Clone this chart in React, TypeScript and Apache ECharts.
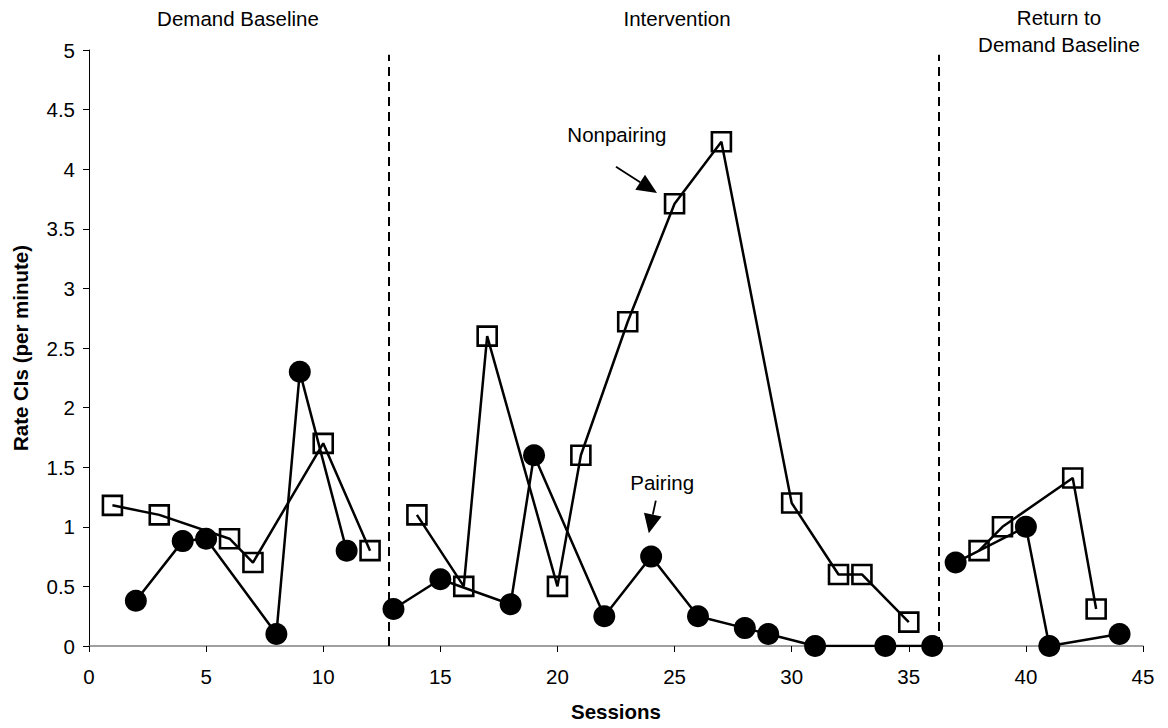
import React, { useEffect, useRef } from "react";
import * as echarts from "echarts";

// Nonpairing (open squares), by phase: [session, rate]
const nonpairingBaseline: [number, number][] = [
  [1, 1.18], [3, 1.1], [6, 0.9], [7, 0.7], [10, 1.7], [12, 0.8],
];
const nonpairingIntervention: [number, number][] = [
  [14, 1.1], [16, 0.5], [17, 2.6], [20, 0.5], [21, 1.6], [23, 2.72],
  [25, 3.71], [27, 4.23], [30, 1.2], [32, 0.6], [33, 0.6], [35, 0.2],
];
const nonpairingReturn: [number, number][] = [
  [38, 0.8], [39, 1.0], [42, 1.41], [43, 0.31],
];

// Pairing (filled circles), by phase
const pairingBaseline: [number, number][] = [
  [2, 0.38], [4, 0.88], [5, 0.9], [8, 0.1], [9, 2.3], [11, 0.8],
];
const pairingIntervention: [number, number][] = [
  [13, 0.31], [15, 0.56], [18, 0.35], [19, 1.6], [22, 0.25], [24, 0.75],
  [26, 0.25], [28, 0.15], [29, 0.1], [31, 0], [34, 0], [36, 0],
];
const pairingReturn: [number, number][] = [
  [37, 0.7], [40, 1.0], [41, 0], [44, 0.1],
];

// Phase change lines (session position)
const phaseChanges: number[] = [12.8, 36.3];

const phaseLabels = [
  { text: "Demand Baseline", x: 238, y: 18 },
  { text: "Intervention", x: 677, y: 18 },
  { text: "Return to\nDemand Baseline", x: 1059, y: 31 },
];

const FONT = "'Liberation Sans', Arial, Helvetica, sans-serif";
const FS = 20.5;

export default function App() {
  const ref = useRef<HTMLDivElement>(null);

  useEffect(() => {
    if (!ref.current) return;
    const chart = echarts.init(ref.current, null, { renderer: "svg" });

    const squareSeries = (data: [number, number][]) => ({
      type: "line",
      data,
      symbol: "rect",
      symbolSize: 19,
      showSymbol: true,
      lineStyle: { color: "#000", width: 2.5 },
      itemStyle: { color: "rgba(0,0,0,0)", borderColor: "#000", borderWidth: 2.6 },
      z: 2,
    });
    const circleSeries = (data: [number, number][]) => ({
      type: "line",
      data,
      symbol: "circle",
      symbolSize: 22,
      showSymbol: true,
      lineStyle: { color: "#000", width: 2.5 },
      itemStyle: { color: "#000", borderWidth: 0 },
      z: 3,
    });

    chart.setOption({
      animation: false,
      textStyle: { fontFamily: FONT },
      grid: { left: 89, right: 25, top: 50, bottom: 82, containLabel: false },
      xAxis: {
        type: "value",
        min: 0,
        max: 45,
        interval: 5,
        name: "Sessions",
        nameLocation: "middle",
        nameGap: 55,
        nameTextStyle: { fontWeight: "bold", fontSize: FS, color: "#000", fontFamily: FONT },
        axisLine: { onZero: false, lineStyle: { color: "#808080", width: 1.5 } },
        axisTick: { show: true, inside: false, length: 6, lineStyle: { color: "#000", width: 1 } },
        axisLabel: { fontSize: FS, color: "#000", margin: 20, fontFamily: FONT },
        splitLine: { show: false },
      },
      yAxis: {
        type: "value",
        min: 0,
        max: 5,
        interval: 0.5,
        name: "Rate CIs (per minute)",
        nameLocation: "middle",
        nameGap: 58,
        nameTextStyle: { fontWeight: "bold", fontSize: FS, color: "#000", fontFamily: FONT },
        axisLine: { show: true, lineStyle: { color: "#000", width: 1 } },
        axisTick: { show: true, inside: false, length: 6, lineStyle: { color: "#000", width: 1 } },
        axisLabel: { fontSize: FS, color: "#000", margin: 14, fontFamily: FONT },
        splitLine: { show: false },
      },
      series: [
        squareSeries(nonpairingBaseline),
        squareSeries(nonpairingIntervention),
        squareSeries(nonpairingReturn),
        circleSeries(pairingBaseline),
        circleSeries(pairingIntervention),
        {
          ...circleSeries(pairingReturn),
          markLine: {
            silent: true,
            symbol: "none",
            label: { show: false },
            lineStyle: { color: "#000", type: [9, 6], width: 2 },
            data: phaseChanges.map((x) => [
              { coord: [x, 0] },
              { coord: [x, 4.96] },
            ]),
          },
        },
      ],
    });

    const p = (x: number, y: number) =>
      chart.convertToPixel({ gridIndex: 0 }, [x, y]) as number[];

    const arrow = (from: number[], tip: number[], headLen: number, headW: number) => {
      const dx = tip[0] - from[0];
      const dy = tip[1] - from[1];
      const len = Math.sqrt(dx * dx + dy * dy);
      const ux = dx / len;
      const uy = dy / len;
      const bx = tip[0] - ux * headLen;
      const by = tip[1] - uy * headLen;
      return [
        {
          type: "line",
          shape: { x1: from[0], y1: from[1], x2: bx, y2: by },
          style: { stroke: "#000", lineWidth: 1.8 },
        },
        {
          type: "polygon",
          shape: {
            points: [
              [tip[0], tip[1]],
              [bx - uy * headW, by + ux * headW],
              [bx + uy * headW, by - ux * headW],
            ],
          },
          style: { fill: "#000" },
        },
      ];
    };

    const nonText = p(22.54, 4.29);
    const pairText = p(24.47, 1.375);

    chart.setOption({
      graphic: [
        ...phaseLabels.map((l) => ({
          type: "text",
          x: l.x,
          y: l.y,
          style: {
            text: l.text,
            font: `${FS}px ${FONT}`,
            fill: "#000",
            align: "center",
            verticalAlign: "middle",
            lineHeight: 27,
          },
        })),
        {
          type: "text",
          x: nonText[0],
          y: nonText[1],
          style: {
            text: "Nonpairing",
            font: `${FS}px ${FONT}`,
            fill: "#000",
            align: "center",
            verticalAlign: "middle",
          },
        },
        {
          type: "text",
          x: pairText[0],
          y: pairText[1],
          style: {
            text: "Pairing",
            font: `${FS}px ${FONT}`,
            fill: "#000",
            align: "center",
            verticalAlign: "middle",
          },
        },
        ...arrow(p(22.5, 4.02), p(24.25, 3.8), 20, 9),
        ...arrow(p(24.2, 1.22), p(23.9, 0.946), 19, 9),
      ],
    });

    return () => chart.dispose();
  }, []);

  return <div ref={ref} style={{ width: 1168, height: 728, position: "absolute", left: 0, top: 0 }} />;
}
